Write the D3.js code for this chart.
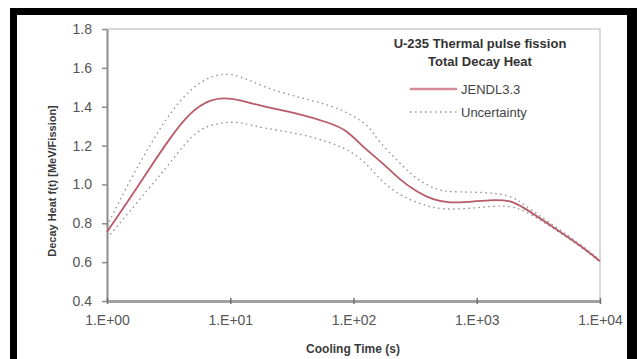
<!DOCTYPE html>
<html>
<head>
<meta charset="utf-8">
<script src="https://cdn.jsdelivr.net/npm/d3@7"></script>
<style>
  body { margin: 0; background: #fff; }
  svg { display: block; font-family: "Liberation Sans", Arial, sans-serif; }
</style>
</head>
<body>
<script>
// 数据 (cooling time in s, decay heat in MeV/fission)
let mainTimes = [1, 1.54, 2.23, 3.24, 4.72, 6.85, 9.9, 18.4, 34.8, 64.5, 88.5, 119, 173, 238, 327, 442, 607, 834, 1282, 1862, 2372, 4155, 6880, 10000];
let mainValues = [0.755, 0.93, 1.085, 1.239, 1.373, 1.44, 1.45, 1.40, 1.368, 1.316, 1.28, 1.193, 1.11, 1.023, 0.961, 0.92, 0.904, 0.91, 0.92, 0.92, 0.884, 0.781, 0.688, 0.605];

let upperTimes = [1, 1.54, 2.23, 3.24, 4.72, 6.85, 10.5, 18.4, 34.8, 64.5, 99, 136, 155, 238, 327, 476, 607, 1124, 1862, 2372, 4155, 6880, 10000];
let upperValues = [0.786, 1.023, 1.203, 1.368, 1.491, 1.558, 1.579, 1.501, 1.45, 1.409, 1.357, 1.296, 1.229, 1.11, 1.023, 0.971, 0.961, 0.961, 0.946, 0.90, 0.79, 0.695, 0.61];

let lowerTimes = [1, 1.27, 2.23, 3.07, 4.99, 6.85, 9.4, 12, 18.4, 34.8, 64.5, 99, 136, 173, 252, 366, 532, 1005, 1634, 2372, 4155, 6880, 10000];
let lowerValues = [0.724, 0.80, 0.987, 1.09, 1.265, 1.306, 1.321, 1.321, 1.29, 1.265, 1.218, 1.167, 1.09, 1.007, 0.935, 0.894, 0.868, 0.879, 0.894, 0.875, 0.775, 0.683, 0.60];

let xTicks = [1, 10, 100, 1000, 10000];
let xTickLabels = ["1.E+00", "1.E+01", "1.E+02", "1.E+03", "1.E+04"];
let yTicks = [0.4, 0.6, 0.8, 1.0, 1.2, 1.4, 1.6, 1.8];

let titleLines = ["U-235 Thermal pulse fission", "Total Decay Heat"];
let legendNames = ["JENDL3.3", "Uncertainty"];

// 画布
let width = 641;
let height = 359;
let svg = d3.select("body").append("svg")
    .attr("width", width).attr("height", height);

// 黑色外框
svg.append("rect").attr("x", 10).attr("y", 8).attr("width", 627).attr("height", 360).attr("fill", "#000");
svg.append("rect").attr("x", 17).attr("y", 15).attr("width", 610).attr("height", 350).attr("fill", "#fff");

let plot = { left: 107, right: 600, top: 29, bottom: 301 };

let xScale = d3.scaleLog().domain([1, 10000]).range([plot.left, plot.right]);
let yScale = d3.scaleLinear().domain([0.4, 1.8]).range([plot.bottom, plot.top]);

let axisColor = "#8c8c8c";
let textColor = "#555";

// 绘图区边框 (上、右)
svg.append("path")
    .attr("d", `M${plot.left},${plot.top}H${plot.right}V${plot.bottom}`)
    .attr("fill", "none")
    .attr("stroke", "#cdcdcd")
    .attr("stroke-width", 1.5);

// y轴
svg.append("g")
    .attr("transform", `translate(${plot.left},0)`)
    .call(d3.axisLeft(yScale).tickValues(yTicks).tickFormat(d3.format(".1f"))
        .tickSize(5).tickSizeOuter(0).tickPadding(10))
    .call(function (g) {
        g.select(".domain").attr("stroke", axisColor).attr("stroke-width", 2);
        g.selectAll("line").attr("stroke", axisColor).attr("stroke-width", 1.5);
        g.selectAll("text").attr("fill", textColor).style("font-size", "14px");
    });

// x轴
svg.append("g")
    .attr("transform", `translate(0,${plot.bottom})`)
    .call(d3.axisBottom(xScale).tickValues(xTicks).tickFormat((d, i) => xTickLabels[i])
        .tickSize(3).tickSizeOuter(0).tickPadding(11))
    .call(function (g) {
        g.select(".domain").attr("stroke", "#a0a0a0").attr("stroke-width", 3);
        g.selectAll("line").attr("stroke", "#707070").attr("stroke-width", 1.5).attr("y1", -3);
        g.selectAll("text").attr("fill", textColor).style("font-size", "14px");
    });

// 坐标轴标题
svg.append("text")
    .attr("x", 353).attr("y", 353)
    .attr("text-anchor", "middle")
    .attr("fill", "#3a3a3a")
    .style("font-size", "12px").style("font-weight", "bold")
    .text("Cooling Time (s)");

svg.append("text")
    .attr("transform", "translate(56,181) rotate(-90)")
    .attr("text-anchor", "middle")
    .attr("fill", "#3a3a3a")
    .style("font-size", "11px").style("font-weight", "bold")
    .text("Decay Heat f(t) [MeV/Fission]");

// 曲线
let line = d3.line()
    .x(d => xScale(d[0]))
    .y(d => yScale(d[1]))
    .curve(d3.curveBasis);

let dotStyle = { stroke: "#8e8e8e", width: 1.3, dash: "1.5,3.5" };

svg.append("path")
    .datum(d3.zip(upperTimes, upperValues))
    .attr("d", line)
    .attr("fill", "none")
    .attr("stroke", dotStyle.stroke)
    .attr("stroke-width", dotStyle.width)
    .attr("stroke-dasharray", dotStyle.dash);

svg.append("path")
    .datum(d3.zip(lowerTimes, lowerValues))
    .attr("d", line)
    .attr("fill", "none")
    .attr("stroke", dotStyle.stroke)
    .attr("stroke-width", dotStyle.width)
    .attr("stroke-dasharray", dotStyle.dash);

svg.append("path")
    .datum(d3.zip(mainTimes, mainValues))
    .attr("d", line)
    .attr("fill", "none")
    .attr("stroke", "#b85a68")
    .attr("stroke-width", 1.8);

// 标题
svg.selectAll(".title-line")
    .data(titleLines)
    .enter().append("text")
    .attr("class", "title-line")
    .attr("x", 480)
    .attr("y", (d, i) => 48 + i * 18)
    .attr("text-anchor", "middle")
    .attr("fill", "#333")
    .style("font-size", "13px").style("font-weight", "bold")
    .text(d => d);

// 图例
let legend = svg.append("g").attr("transform", "translate(410,89)");
legend.append("line")
    .attr("x1", 0).attr("x2", 47).attr("y1", 0).attr("y2", 0)
    .attr("stroke", "#d68a9a").attr("stroke-width", 2.5);
legend.append("line")
    .attr("x1", 0).attr("x2", 47).attr("y1", 23).attr("y2", 23)
    .attr("stroke", dotStyle.stroke).attr("stroke-width", dotStyle.width)
    .attr("stroke-dasharray", dotStyle.dash);
legend.selectAll(".legend-text")
    .data(legendNames)
    .enter().append("text")
    .attr("class", "legend-text")
    .attr("x", 51)
    .attr("y", (d, i) => i * 23 + 5)
    .attr("fill", "#444")
    .style("font-size", "13px")
    .text(d => d);
</script>
</body>
</html>
